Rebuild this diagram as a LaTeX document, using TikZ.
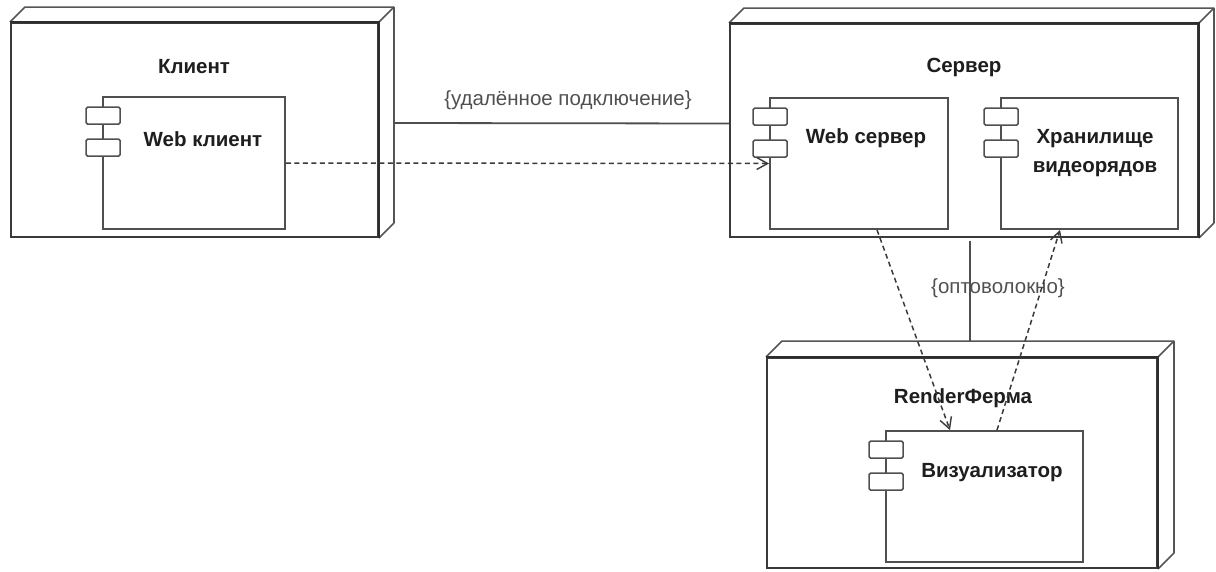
\documentclass[tikz,border=0pt]{standalone}
\usepackage{fontspec}
\setmainfont{Liberation Sans}
\usetikzlibrary{arrows.meta,calc}

\definecolor{edge}{HTML}{3A3A3A}
\definecolor{backedge}{HTML}{555555}
\definecolor{compedge}{HTML}{505050}
\definecolor{titletext}{HTML}{1E1E1E}
\definecolor{linktext}{HTML}{505050}

\tikzset{
  x=1pt, y=-1pt,
  every node/.style={font=\fontsize{20.5}{29}\selectfont},
  frontface/.style={draw=edge, line width=1.9pt, fill=white, inner sep=0pt},
  backface/.style={draw=backedge, line width=1.6pt, line join=round},
  frontedge/.style={draw=edge!80!black, line width=2.6pt},
  compbox/.style={draw=compedge, line width=1.8pt, fill=white, inner sep=0pt},
  portbox/.style={draw=compedge, line width=1.7pt, fill=white, rounded corners=1.5pt,
    minimum width=34pt, minimum height=17pt, inner sep=0pt},
  title/.style={text=titletext, font=\fontsize{20.5}{29}\selectfont\bfseries, align=center},
  linklabel/.style={text=linktext},
  link/.style={draw=edge!90, line width=1.8pt},
  dep/.style={draw=edge, line width=1.5pt, dash pattern=on 5pt off 3.5pt,
    -{Straight Barb[length=11pt,width=12pt,line width=1.4pt]}},
}

% depth part of a 3D deployment node: #1 node name, #2 depth
\newcommand{\boxdepth}[2]{%
  \draw[backface] (#1.north west) -- ++(#2,-#2) -- ($(#1.north east)+(#2,-#2)$)
    -- ($(#1.south east)+(#2,-#2)$) -- (#1.south east);
  \draw[backface] (#1.north east) -- ++(#2,-#2);
  \draw[frontedge] (#1.north west) -- (#1.north east) -- (#1.south east);
}

% two interface tabs on the left side of a component
\newcommand{\ports}[1]{%
  \node[portbox] (#1-p1) at ($(#1.north west)+(1,19.5)$) {};
  \node[portbox] (#1-p2) at ($(#1.north west)+(1,51.5)$) {};
}

\begin{document}
\begin{tikzpicture}
\useasboundingbox (0,0) rectangle (1216,571);

% ---- Client node ----
\node[frontface, minimum width=367pt, minimum height=214pt] (client) at (194.5,130) {};
\boxdepth{client}{15}
\node[title] (client-t) at (194,67) {Клиент};
\node[compbox, minimum width=182pt, minimum height=132pt] (webclient) at (194,163) {};
\ports{webclient}
\node[title] (webclient-t) at (203,139) {Web клиент};

% ---- Server node ----
\node[frontface, minimum width=468pt, minimum height=213pt] (server) at (964,130.5) {};
\boxdepth{server}{15}
\node[title] (server-t) at (964,67) {Сервер};
\node[compbox, minimum width=178pt, minimum height=131pt] (webserver) at (859,163.5) {};
\ports{webserver}
\node[title] (webserver-t) at (866,138) {Web сервер};
\node[compbox, minimum width=177pt, minimum height=131pt] (storage) at (1089.5,163.5) {};
\ports{storage}
\node[title] (storage-t) at (1095,153) {Хранилище\\видеорядов};

% ---- Render farm node ----
\node[frontface, minimum width=390pt, minimum height=210pt] (farm) at (962,463) {};
\boxdepth{farm}{16}
\node[title] (farm-t) at (963,398) {RenderФерма};
\node[compbox, minimum width=197pt, minimum height=131pt] (viz) at (984.5,496.5) {};
\ports{viz}
\node[title] (viz-t) at (992,473) {Визуализатор};

% ---- Communication paths ----
\draw[link] ([xshift=15pt,yshift=7pt]client.east) -- ([yshift=7pt]server.west);
\node[linklabel] (remote-t) at (568,100) {\{удалённое подключение\}};

\draw[link] ([xshift=6pt,yshift=-3pt]server.south) -- ([xshift=8pt,yshift=16pt]farm.north);
\node[linklabel] (fiber-t) at (998,288) {\{оптоволокно\}};

% ---- Dependencies ----
\draw[dep] (webclient.east) -- (webserver.west);
\draw[dep] ([xshift=18pt]webserver.south) -- ([xshift=-34.5pt]viz.north);
\draw[dep] ([xshift=12.5pt]viz.north) -- ([xshift=-29.5pt]storage.south);
\end{tikzpicture}
\end{document}
